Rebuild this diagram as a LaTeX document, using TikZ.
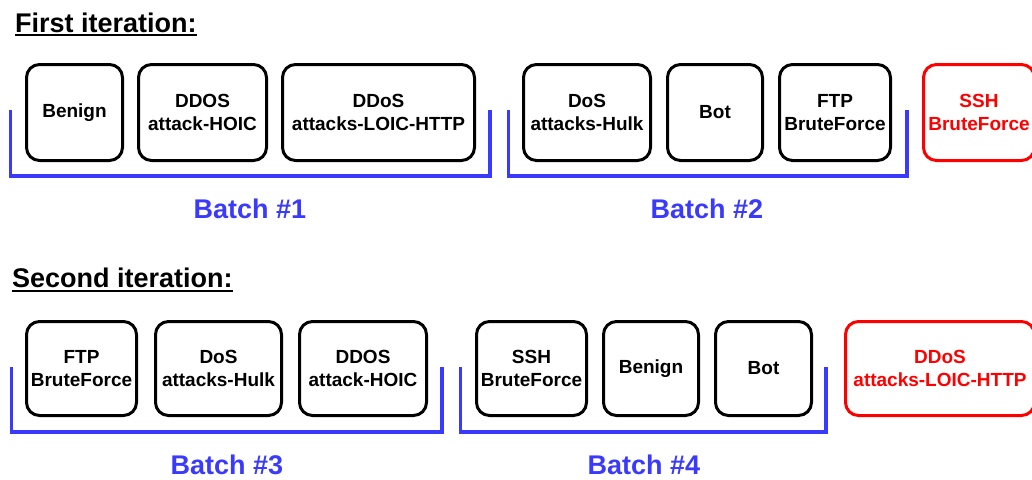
\documentclass[tikz,border=0pt]{standalone}
\usepackage{fontspec}
\setmainfont{Liberation Sans}
\definecolor{bblue}{RGB}{58,58,255}
\definecolor{rred}{RGB}{255,0,0}
\begin{document}
\begin{tikzpicture}[x=1pt,y=-1pt,
 cls/.style={draw=black, line width=3pt, rounded corners=13pt, align=center, inner sep=0pt,
   font=\fontsize{19}{23}\selectfont\bfseries},
 hold/.style={cls, draw=rred, text=rred},
 r1/.style={minimum height=96pt},
 r2/.style={minimum height=94pt},
 brk/.style={draw=bblue, line width=3.5pt},
 batch/.style={text=bblue, font=\fontsize{27}{30}\selectfont\bfseries, inner sep=0pt},
 title/.style={font=\fontsize{27}{30}\selectfont\bfseries, anchor=base west, inner sep=0pt},
 uline/.style={line width=2pt}]
\useasboundingbox (0,0) rectangle (1032,479);
\fill[white] (0,0) rectangle (1032,479);

% ---------- First iteration ----------
\node[title] (t1) at (15,32) {First iteration:};
\draw[uline] ([yshift=-2.5pt]t1.base west) -- ([yshift=-2.5pt]t1.base east);

\node[cls,r1,minimum width=96pt]  (a1) at (74.5,112.5)  {Benign};
\node[cls,r1,minimum width=128pt] (a2) at (202.5,112.5) {DDOS\\attack-HOIC};
\node[cls,r1,minimum width=192pt] (a3) at (378.5,112.5) {DDoS\\attacks-LOIC-HTTP};
\node[cls,r1,minimum width=127pt] (a4) at (587,112.5)   {DoS\\attacks-Hulk};
\node[cls,r1,minimum width=95pt]  (a5) at (715,112.5)   {Bot};
\node[cls,r1,minimum width=111pt] (a6) at (835,112.5)   {FTP\\BruteForce};
\node[hold,r1,minimum width=111pt] (a7) at (979,112.5)  {SSH\\BruteForce};

\draw[brk] (10.5,110) -- (10.5,176) -- (490,176) -- (490,110);
\draw[brk] (508.5,110) -- (508.5,176) -- (907,176) -- (907,110);
\node[batch] (b1) at (250,209) {Batch \#1};
\node[batch] (b2) at (707,209) {Batch \#2};

% ---------- Second iteration ----------
\node[title] (t2) at (12,287) {Second iteration:};
\draw[uline] ([yshift=-3.5pt]t2.base west) -- ([yshift=-3.5pt]t2.base east);

\node[cls,r2,minimum width=110pt] (c1) at (81.5,368.5)  {FTP\\BruteForce};
\node[cls,r2,minimum width=126pt] (c2) at (218.5,368.5) {DoS\\attacks-Hulk};
\node[cls,r2,minimum width=127pt] (c3) at (363,368.5)   {DDOS\\attack-HOIC};
\node[cls,r2,minimum width=110pt] (c4) at (531.5,368.5) {SSH\\BruteForce};
\node[cls,r2,minimum width=95pt]  (c5) at (651,368.5)   {Benign};
\node[cls,r2,minimum width=96pt]  (c6) at (763.5,368.5) {Bot};
\node[hold,r2,minimum width=189pt] (c7) at (940,368.5)  {DDoS\\attacks-LOIC-HTTP};

\draw[brk] (11.5,367) -- (11.5,432) -- (442,432) -- (442,367);
\draw[brk] (460.5,367) -- (460.5,432) -- (826,432) -- (826,367);
\node[batch] (b3) at (227,465) {Batch \#3};
\node[batch] (b4) at (644,465) {Batch \#4};
\end{tikzpicture}
\end{document}
